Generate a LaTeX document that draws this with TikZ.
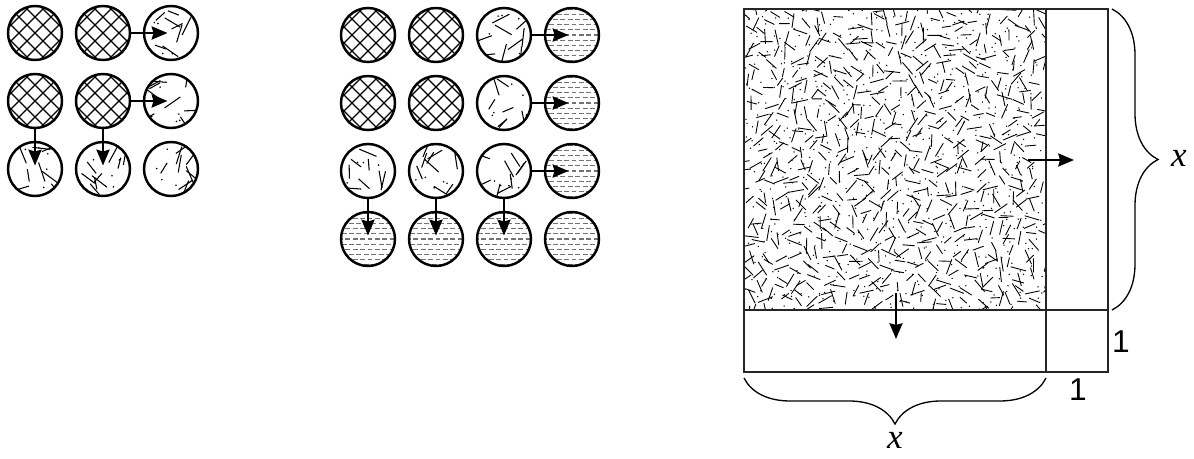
\documentclass[tikz,border=0pt]{standalone}
\usepackage{fontspec}
\newfontfamily\digitfont{Liberation Sans}
\newfontfamily\varfont{Liberation Serif}
\usetikzlibrary{arrows.meta,decorations.pathreplacing}
\tikzset{
  >={Stealth[length=9pt,width=7.5pt,inset=1pt]},
  cell/.style={circle, draw, line width=1.4pt, minimum size=1.08cm, inner sep=0pt},
  crossed/.style={cell, path picture={
    \begin{scope}[shift={(path picture bounding box.center)}]
      \foreach \d in {-64,-48,...,64} {
        \draw[line width=0.75pt] (\d-30,-30) -- (\d+30,30);
        \draw[line width=0.75pt] (\d-30,30) -- (\d+30,-30);
      }
    \end{scope}}},
  strewn/.style={cell, path picture={
    \begin{scope}[shift={(path picture bounding box.center)}]
      \foreach \i in {1,...,9} {
        \pgfmathsetmacro\rx{(rnd-0.5)*46}
        \pgfmathsetmacro\ry{(rnd-0.5)*46}
        \pgfmathsetmacro\ra{rnd*180}
        \pgfmathsetmacro\rl{5.5+rnd*4.5}
        \draw[line width=0.6pt] (\rx,\ry) ++(\ra:\rl) -- ++(\ra+180:2*\rl);
      }
      \foreach \i in {1,...,5} {
        \pgfmathsetmacro\rx{(rnd-0.5)*44}
        \pgfmathsetmacro\ry{(rnd-0.5)*44}
        \fill (\rx,\ry) circle (0.9);
      }
    \end{scope}}},
  streaked/.style={cell, path picture={
    \begin{scope}[shift={(path picture bounding box.center)}]
      \foreach \j in {-5,...,5} {
        \pgfmathsetmacro\ph{mod(\j+10,2)*2.1}
        \draw[black!55, line width=0.7pt, dash pattern=on 2.8pt off 1.4pt,
          dash phase=\ph pt] (-30,\j*5.2) -- (30,\j*5.2);
      }
    \end{scope}}},
  flow/.style={->, line width=1.1pt, shorten >=2pt},
  frame/.style={line width=1.1pt, black!85},
  curly/.style={decorate, decoration={brace, amplitude=0.92cm}, line width=0.75pt},
  numlab/.style={font=\digitfont\fontsize{18}{20}\selectfont, inner sep=0pt},
  varlab/.style={font=\varfont\itshape\fontsize{20}{22}\selectfont, inner sep=0pt},
}

\begin{document}
\begin{tikzpicture}[x=0.02cm, y=-0.02cm]
  \useasboundingbox (0,0) rectangle (1194,459);
  \pgfmathsetseed{17}

  % --- small grid ---
  \foreach \n/\x/\y in {l11/35/33, l12/103/33, l21/35/101, l22/103/101} {
    \node[crossed] (\n) at (\x,\y) {};
  }
  \foreach \n/\x/\y in {l13/171/33, l23/171/101, l31/35/169, l32/103/169, l33/171/169} {
    \node[strewn] (\n) at (\x,\y) {};
  }
  \foreach \a/\b in {l12/l13, l22/l23, l21/l31, l22/l32} {
    \draw[flow] (\a) -- (\b.center);
  }

  % --- large grid ---
  \foreach \n/\x/\y in {m11/368/35, m12/436/35, m21/368/103, m22/436/103} {
    \node[crossed] (\n) at (\x,\y) {};
  }
  \foreach \n/\x/\y in {m13/504/35, m23/504/103, m31/368/171, m32/436/171, m33/504/171} {
    \node[strewn] (\n) at (\x,\y) {};
  }
  \foreach \n/\x/\y in {m14/572/35, m24/572/103, m34/572/171,
    m41/368/239, m42/436/239, m43/504/239, m44/572/239} {
    \node[streaked] (\n) at (\x,\y) {};
  }
  \foreach \a/\b in {m13/m14, m23/m24, m33/m34, m31/m41, m32/m42, m33/m43} {
    \draw[flow] (\a) -- (\b.center);
  }

  % --- square with strips ---
  \begin{scope}
    \clip (744,9) rectangle (1046,310);
    \foreach \i in {0,...,26} {
      \foreach \j in {0,...,26} {
        \pgfmathsetmacro\rx{740+\i*11.6+rnd*11.6}
        \pgfmathsetmacro\ry{5+\j*11.6+rnd*11.6}
        \pgfmathsetmacro\ra{rnd*180}
        \pgfmathsetmacro\rl{4.5+rnd*3.5}
        \draw[line width=0.5pt] (\rx,\ry) ++(\ra:\rl) -- ++(\ra+180:2*\rl);
        \pgfmathsetmacro\rx{740+\i*11.6+rnd*11.6}
        \pgfmathsetmacro\ry{5+\j*11.6+rnd*11.6}
        \fill (\rx,\ry) circle (0.75);
      }
    }
  \end{scope}
  \coordinate (sqnw) at (744,9);
  \coordinate (sqse) at (1108,372);
  \coordinate (cutn) at (1046,9);
  \coordinate (cuts) at (1046,372);
  \coordinate (cutw) at (744,310);
  \coordinate (cute) at (1108,310);
  \draw[frame] (sqnw) rectangle (sqse);
  \draw[frame] (cutn) -- (cuts);
  \draw[frame] (cutw) -- (cute);

  \coordinate (gr0) at (1028,160);
  \coordinate (gr1) at (1074,160);
  \coordinate (gd0) at (896,293);
  \coordinate (gd1) at (896,339);
  \draw[->, line width=0.8pt] (gr0) -- (gr1);
  \draw[->, line width=0.8pt] (gd0) -- (gd1);

  % braces and labels
  \coordinate (bra0) at (1112,9);
  \coordinate (bra1) at (1112,310);
  \coordinate (brb0) at (1046,378);
  \coordinate (brb1) at (744,378);
  \draw[curly] (bra0) -- (bra1);
  \draw[curly] (brb0) -- (brb1);
  \node[varlab] (xright) at (1179,158) {x};
  \node[varlab] (xbottom) at (895,440) {x};
  \node[numlab] (oneright) at (1121,342) {1};
  \node[numlab] (onebottom) at (1078,390) {1};
\end{tikzpicture}
\end{document}
